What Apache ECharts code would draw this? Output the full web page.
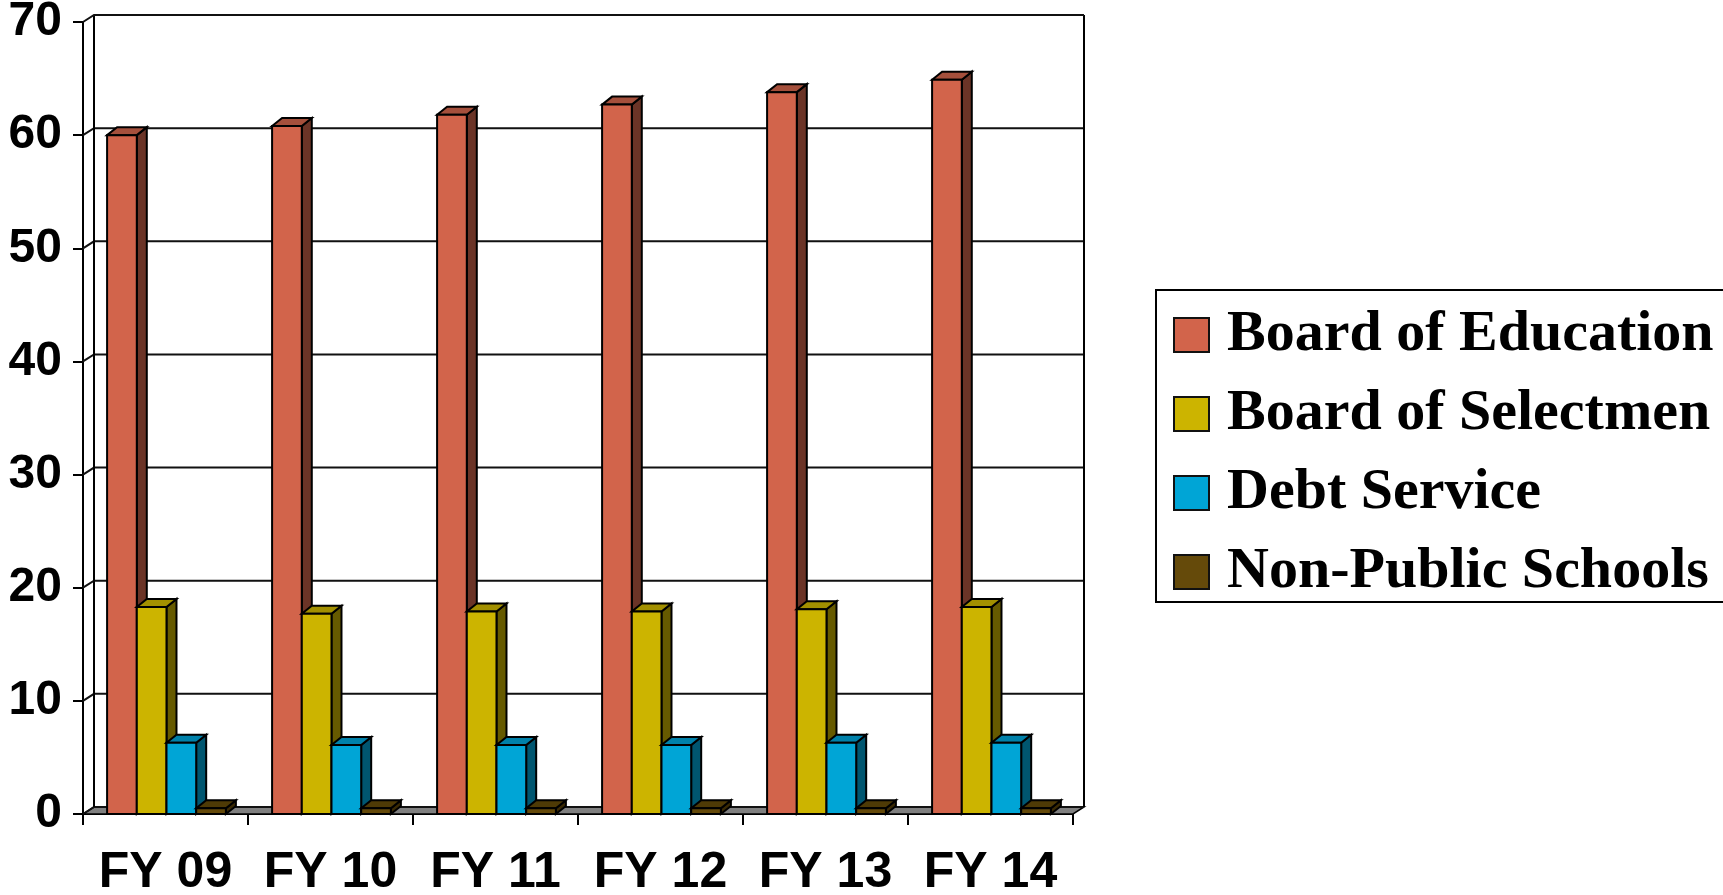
<!DOCTYPE html>
<html>
<head>
<meta charset="utf-8">
<title>Budget by Category FY 09 – FY 14</title>
<script src="https://cdn.jsdelivr.net/npm/echarts@6/dist/echarts.min.js"></script>
<style>
  html, body { margin: 0; padding: 0; background: #ffffff; }
  #chart { width: 1723px; height: 895px; }
</style>
</head>
<body>
<div id="chart"></div>
<script>
// Fiscal years on the category axis
const years = ['FY 09', 'FY 10', 'FY 11', 'FY 12', 'FY 13', 'FY 14'];

// Values per budget line (millions)
const boardOfEducation = [60.0, 60.8, 61.8, 62.7, 63.8, 64.9];
const boardOfSelectmen = [18.3, 17.7, 17.9, 17.9, 18.1, 18.3];
const debtService      = [6.3, 6.1, 6.1, 6.1, 6.3, 6.3];
const nonPublicSchools = [0.5, 0.5, 0.5, 0.5, 0.5, 0.5];

// Value axis ticks
const yTicks = [0, 10, 20, 30, 40, 50, 60, 70];

const seriesNames = ['Board of Education', 'Board of Selectmen', 'Debt Service', 'Non-Public Schools'];
const seriesValues = [boardOfEducation, boardOfSelectmen, debtService, nonPublicSchools];

// front / top / side shades for each series
const shades = [
  { front: '#D2644B', top: '#A5503C', side: '#6B3427' },
  { front: '#CCB400', top: '#A39000', side: '#665A00' },
  { front: '#00A5D6', top: '#0081AA', side: '#005670' },
  { front: '#654A0A', top: '#4E3A06', side: '#3A2A04' }
];

// depth offsets of the pseudo-3D box and of each column
const WALL_DX = 11, WALL_DY = -7;
const BAR_DX = 10, BAR_DY = -8;
const BAR_FRACTION = 0.18;

const chart = echarts.init(document.getElementById('chart'), null, { renderer: 'canvas' });

// back wall, floor and the gridlines running across the back wall
function renderWall(params, api) {
  const cs = params.coordSys;
  const v = api.value(1);
  const y = api.coord([0, v])[1];
  const children = [];
  const xl = cs.x, xr = cs.x + cs.width;
  if (v === yTicks[0]) {
    children.push({
      type: 'polygon',
      shape: { points: [[xl, y], [xr, y], [xr + WALL_DX, y + WALL_DY], [xl + WALL_DX, y + WALL_DY]] },
      style: { fill: '#808080', stroke: '#000', lineWidth: 1.5 }
    });
  }
  if (v === yTicks[yTicks.length - 1]) {
    const y0 = api.coord([0, yTicks[0]])[1];
    children.push({
      type: 'polyline',
      shape: { points: [[xl + WALL_DX, y + WALL_DY], [xl + WALL_DX, y0 + WALL_DY]] },
      style: { stroke: '#000', lineWidth: 2, fill: null }
    });
    children.push({
      type: 'polyline',
      shape: { points: [[xr + WALL_DX, y + WALL_DY], [xr + WALL_DX, y0 + WALL_DY]] },
      style: { stroke: '#000', lineWidth: 2, fill: null }
    });
  }
  children.push({
    type: 'polyline',
    shape: { points: [[xl, y], [xl + WALL_DX, y + WALL_DY], [xr + WALL_DX, y + WALL_DY]] },
    style: { stroke: '#111', lineWidth: 2, fill: null }
  });
  return { type: 'group', children: children };
}

// one shaded column: side face, top face, then the front face
function makeBarRenderer(seriesIndex) {
  const c = shades[seriesIndex];
  return function (params, api) {
    const i = api.value(0);
    const v = api.value(1);
    const base = api.coord([i, 0]);
    const top = api.coord([i, v]);
    const band = api.size([1, 0])[0];
    const w = band * BAR_FRACTION;
    const x0 = base[0] - 2 * w + band * 0.006 + seriesIndex * w;
    const x1 = x0 + w;
    const yt = top[1], yb = base[1];
    const stroke = { stroke: '#000', lineWidth: 2, lineJoin: 'miter' };
    return {
      type: 'group',
      children: [
        {
          type: 'polygon',
          shape: { points: [[x1, yt], [x1 + BAR_DX, yt + BAR_DY], [x1 + BAR_DX, yb + BAR_DY], [x1, yb]] },
          style: Object.assign({ fill: c.side }, stroke)
        },
        {
          type: 'polygon',
          shape: { points: [[x0, yt], [x0 + BAR_DX, yt + BAR_DY], [x1 + BAR_DX, yt + BAR_DY], [x1, yt]] },
          style: Object.assign({ fill: c.top }, stroke)
        },
        {
          type: 'rect',
          shape: { x: x0, y: yt, width: w, height: yb - yt },
          style: Object.assign({ fill: c.front }, stroke)
        }
      ]
    };
  };
}

const series = [{
  name: 'wall',
  type: 'custom',
  clip: false,
  silent: true,
  renderItem: renderWall,
  data: yTicks.map(v => [0, v])
}];

seriesNames.forEach((name, s) => {
  series.push({
    name: name,
    type: 'custom',
    clip: false,
    itemStyle: { color: shades[s].front },
    renderItem: makeBarRenderer(s),
    encode: { x: 0, y: 1 },
    data: seriesValues[s].map((v, i) => [i, v])
  });
});

const option = {
  backgroundColor: '#ffffff',
  animation: false,
  grid: { left: 83, right: 650, top: 22, bottom: 81, containLabel: false, outerBoundsMode: 'none' },
  xAxis: {
    type: 'category',
    data: years,
    boundaryGap: true,
    axisLine: { show: true, lineStyle: { color: '#000', width: 2 } },
    axisTick: { show: true, interval: 0, alignWithLabel: false, length: 11, lineStyle: { color: '#000', width: 2 } },
    axisLabel: {
      interval: 0,
      margin: 34,
      color: '#000',
      fontFamily: '"Liberation Sans", Arial, sans-serif',
      fontWeight: 'bold',
      fontSize: 50
    },
    splitLine: { show: false }
  },
  yAxis: {
    type: 'value',
    min: yTicks[0],
    max: yTicks[yTicks.length - 1],
    interval: 10,
    axisLine: { show: true, lineStyle: { color: '#000', width: 2 } },
    axisTick: { show: true, length: 10, lineStyle: { color: '#000', width: 2 } },
    axisLabel: {
      margin: 21,
      color: '#000',
      fontFamily: '"Liberation Sans", Arial, sans-serif',
      fontWeight: 'bold',
      fontSize: 48
    },
    splitLine: { show: false }
  },
  legend: {
    orient: 'vertical',
    left: 1156,
    top: 290,
    padding: [15, 12, 0, 17],
    itemGap: 19,
    itemWidth: 35,
    itemHeight: 34,
    borderColor: '#000',
    borderWidth: 2,
    backgroundColor: '#ffffff',
    selectedMode: false,
    textStyle: {
      color: '#000',
      fontFamily: '"Liberation Serif", "Times New Roman", serif',
      fontWeight: 'bold',
      fontSize: 58,
      lineHeight: 60,
      padding: [0, 0, 0, 13]
    },
    data: seriesNames.map((name, s) => ({
      name: name,
      icon: 'rect',
      itemStyle: { color: shades[s].front, borderColor: '#111', borderWidth: 2 }
    }))
  },
  series: series
};

chart.setOption(option);
</script>
</body>
</html>
